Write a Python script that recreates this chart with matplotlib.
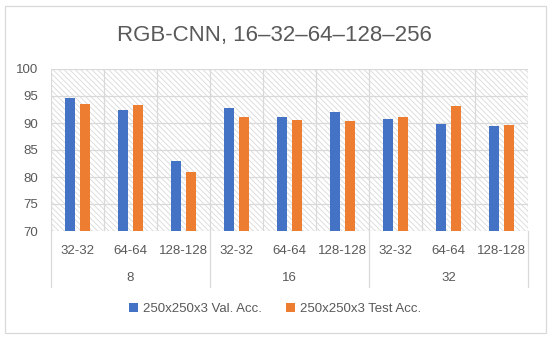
import matplotlib.pyplot as plt
from matplotlib.patches import Rectangle
from matplotlib.lines import Line2D
import matplotlib.transforms as mtransforms
import numpy as np

plt.rcParams['font.family'] = ['Liberation Sans', 'DejaVu Sans']
plt.rcParams['hatch.color'] = '#d9d9d9'
plt.rcParams['hatch.linewidth'] = 0.6

groups = ['8', '16', '32']
categories = ['32-32', '64-64', '128-128'] * 3
val_acc = [94.7, 92.5, 82.9, 92.7, 91.2, 92.1, 90.8, 89.9, 89.4]
test_acc = [93.6, 93.4, 80.9, 91.2, 90.6, 90.3, 91.2, 93.1, 89.6]

blue = '#4472C4'
orange = '#ED7D31'
text_gray = '#595959'
grid_gray = '#d9d9d9'

fig = plt.figure(figsize=(5.5, 3.39), dpi=100)
ax = fig.add_axes([51 / 550, 1 - 231 / 339, 477 / 550, 162 / 339])

x = np.arange(len(categories))
w = 0.2
ax.set_xlim(-0.5, len(categories) - 0.5)
ax.set_ylim(70, 100)

# hatched plot background
ax.add_patch(Rectangle((0, 0), 1, 1, transform=ax.transAxes, facecolor='white',
                       edgecolor=grid_gray, hatch='\\\\\\\\\\\\', lw=0, zorder=0))

for yv in range(70, 101, 5):
    ax.axhline(yv, color=grid_gray, lw=0.9, zorder=1)
for xv in np.arange(-0.5, len(categories), 1):
    ax.axvline(xv, color=grid_gray, lw=0.9, zorder=1)

ax.bar(x - 0.14, val_acc, w, color=blue, zorder=3, label='250x250x3 Val. Acc.')
ax.bar(x + 0.14, test_acc, w, color=orange, zorder=3, label='250x250x3 Test Acc.')

for s in ax.spines.values():
    s.set_visible(False)
ax.set_xticks([])
ax.set_yticks(range(70, 101, 5))
ax.tick_params(axis='y', length=0, pad=9.5, labelsize=9.5, labelcolor=text_gray)

trans = mtransforms.blended_transform_factory(ax.transData, ax.transAxes)
for i, c in enumerate(categories):
    ax.text(i, -0.125, c, transform=trans, ha='center', va='center',
            fontsize=9.5, color=text_gray)
for g, name in enumerate(groups):
    ax.text(g * 3 + 1, -0.29, name, transform=trans, ha='center', va='center',
            fontsize=9.5, color=text_gray)
for xv in [-0.5, 2.5, 5.5, 8.5]:
    ax.add_line(Line2D([xv, xv], [0, -0.346], transform=trans, color=grid_gray,
                       lw=0.9, clip_on=False))

fig.text(274.5 / 550, 1 - 35 / 339, 'RGB-CNN, 16\u201332\u201364\u2013128\u2013256', ha='center',
         va='center', fontsize=16, color=text_gray)

leg = fig.legend(loc='center', bbox_to_anchor=(0.5, 1 - 309 / 339), ncol=2, frameon=False,
                 fontsize=9.5, handlelength=0.7, handleheight=0.7, columnspacing=1.8,
                 handletextpad=0.4)
for t in leg.get_texts():
    t.set_color(text_gray)

fig.add_artist(Rectangle((5 / 550, 1 - 333 / 339), 541 / 550, 327 / 339,
                         transform=fig.transFigure, fill=False, edgecolor=grid_gray, lw=0.9))

fig.savefig('out.png', dpi=100)
